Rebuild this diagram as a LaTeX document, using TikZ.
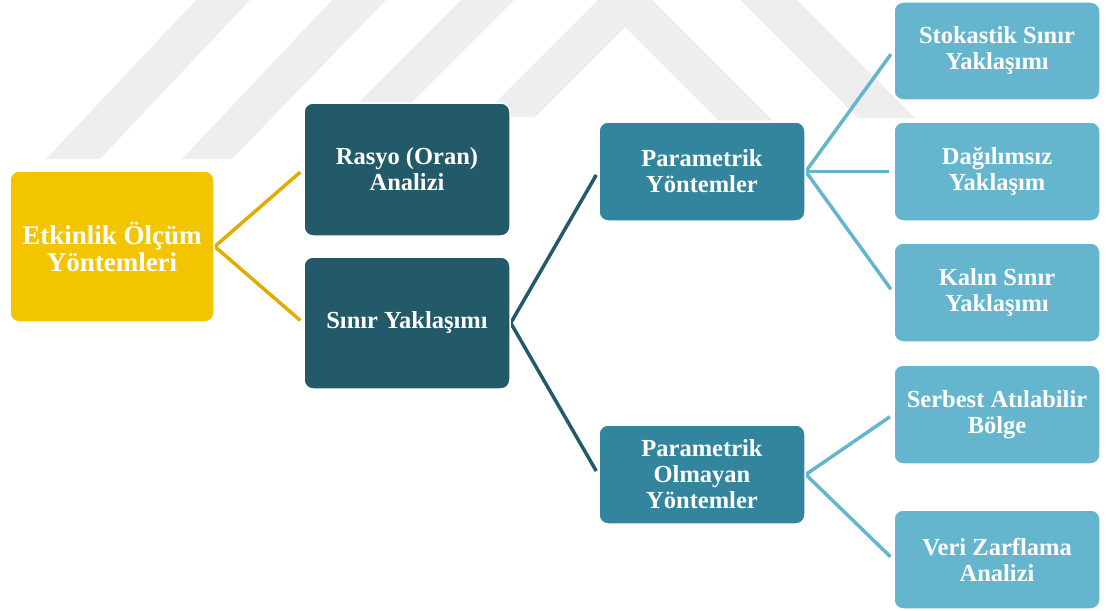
\documentclass[tikz,border=0pt]{standalone}
\usepackage{fontspec}
\setmainfont{Liberation Serif}
\usetikzlibrary{backgrounds}
\definecolor{yel}{HTML}{F2C500}
\definecolor{yelline}{HTML}{E0AC00}
\definecolor{dteal}{HTML}{225A6A}
\definecolor{mteal}{HTML}{32859C}
\definecolor{lblue}{HTML}{65B5CE}
\definecolor{wm}{HTML}{EEEEEE}
\begin{document}
\begin{tikzpicture}[x=1pt,y=-1pt,
  box/.style={rounded corners=9pt, draw=white, line width=1.5pt, text=white,
    font=\bfseries\fontsize{24.5}{26}\selectfont, align=center, inner sep=0pt,
    minimum width=206pt},
  conn/.style={line width=3.5pt, shorten >=4pt}]
\useasboundingbox (0,0) rectangle (1107,610);
% nodes
\node[box, fill=yel, minimum width=204pt, minimum height=151pt,
  font=\bfseries\fontsize{27}{27}\selectfont] (E) at (112,246.5) {Etkinlik Ölçüm\\Yöntemleri};
\node[box, fill=dteal, minimum height=133pt] (R) at (407,169.5) {Rasyo (Oran)\\Analizi};
\node[box, fill=dteal, minimum height=132pt] (S) at (407,323) {Sınır Yaklaşımı};
\node[box, fill=mteal, minimum height=99pt] (P) at (702,171.5) {Parametrik\\Yöntemler};
\node[box, fill=mteal, minimum height=99pt] (PO) at (702,474.5) {Parametrik\\Olmayan\\Yöntemler};
\node[box, fill=lblue, minimum height=98pt] (K1) at (997,51) {Stokastik Sınır\\Yaklaşımı};
\node[box, fill=lblue, minimum height=99pt] (K2) at (997,171.5) {Dağılımsız\\Yaklaşım};
\node[box, fill=lblue, minimum height=99pt] (K3) at (997,292.5) {Kalın Sınır\\Yaklaşımı};
\node[box, fill=lblue, minimum height=99pt] (K4) at (997,414.5) {Serbest Atılabilir\\Bölge};
\node[box, fill=lblue, minimum height=99pt] (K5) at (997,559.5) {Veri Zarflama\\Analizi};
\begin{scope}[on background layer]
% watermark
\fill[wm] (196,0) -- (250,0) -- (100,159) -- (46,159) -- cycle;
\fill[wm] (332,0) -- (386,0) -- (232,159) -- (182,159) -- cycle;
\fill[wm] (461,0) -- (514,0) -- (355,159) -- (302,159) -- cycle;
\fill[wm] (598,0) -- (652,0) -- (772,120) -- (718,120) -- (625,27) -- (535,117) -- (481,117) -- cycle;
\fill[wm] (740,0) -- (797,0) -- (915,118) -- (858,118) -- cycle;
% connectors
\draw[conn, yelline] (E.east) -- (R.west);
\draw[conn, yelline] (E.east) -- (S.west);
\draw[conn, dteal] (S.east) -- (P.west);
\draw[conn, dteal] (S.east) -- (PO.west);
\draw[conn, lblue] (P.east) -- (K1.west);
\draw[conn, lblue] (P.east) -- (K2.west);
\draw[conn, lblue] (P.east) -- (K3.west);
\draw[conn, lblue] (PO.east) -- (K4.west);
\draw[conn, lblue] (PO.east) -- (K5.west);
\end{scope}
\end{tikzpicture}
\end{document}
